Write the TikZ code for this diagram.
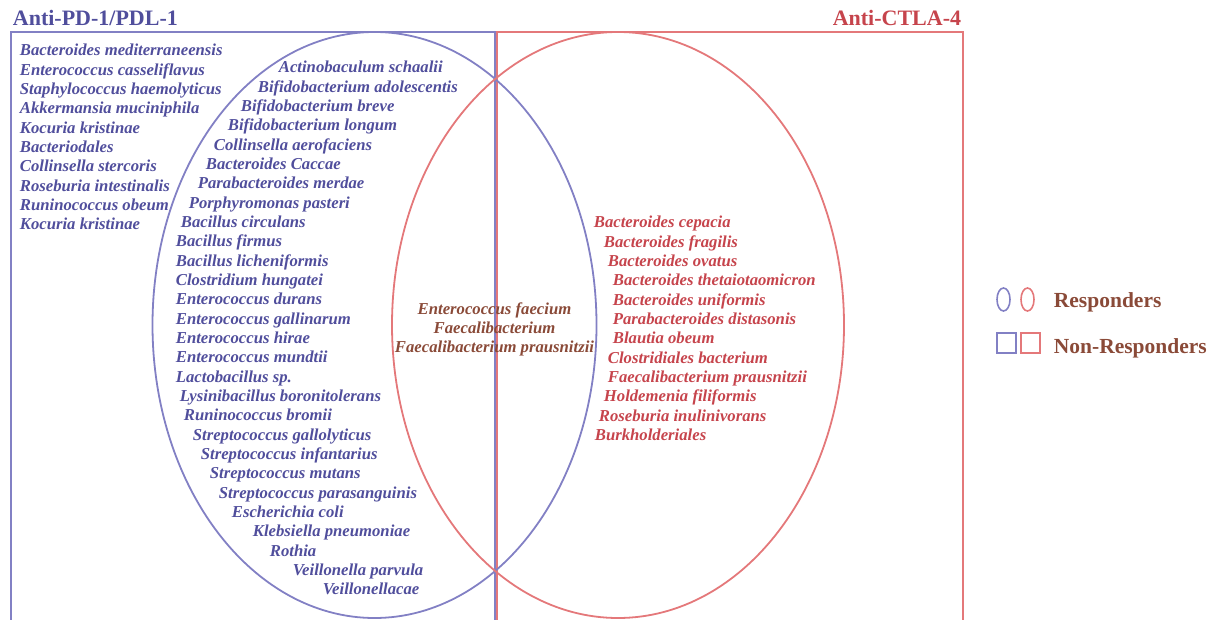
\documentclass[tikz,border=0pt]{standalone}
\usepackage{fontspec}
\setmainfont{Liberation Serif}
\usetikzlibrary{positioning}

\definecolor{pdline}{RGB}{130,128,196}
\definecolor{pdtext}{RGB}{80,78,156}
\definecolor{ctline}{RGB}{228,120,122}
\definecolor{cttext}{RGB}{198,68,76}
\definecolor{shared}{RGB}{138,74,56}
\newcommand{\pushin}[1]{\hspace*{#1pt}}

\begin{document}
\begin{tikzpicture}[x=1pt, y=-1pt, line width=1.8pt,
	spec/.style={inner sep=0pt, align=left, font=\fontsize{16.7}{19.33}\selectfont\bfseries\itshape},
	head/.style={inner sep=0pt, font=\fontsize{22}{26}\selectfont\bfseries}]
	\useasboundingbox (0,0) rectangle (1218,620);
	\clip (0,0) rectangle (1218,620);
	% non-responders: open boxes
	\draw[pdline] (11,640) |- (495,32) -- (495,640);
	\draw[ctline] (497,640) |- (963,32) -- (963,640);
	% responders: ellipses
	\draw[pdline] (374.5,325) ellipse [x radius=222pt, y radius=293pt];
	\draw[ctline] (618,325) ellipse [x radius=226pt, y radius=293pt];
	
	\node[head, pdtext, anchor=base west] (pd_title) at (12,26) {Anti-PD-1/PDL-1};
	\node[head, cttext, anchor=base east] (ct_title) at (962,26) {Anti-CTLA-4};
	
	\node[spec, pdtext, anchor=north west] (pd_only) at (19,43.5) {Bacteroides mediterraneensis\\Enterococcus casseliflavus\\Staphylococcus haemolyticus\\Akkermansia muciniphila\\Kocuria kristinae\\Bacteriodales\\Collinsella stercoris\\Roseburia intestinalis\\Runinococcus obeum\\Kocuria kristinae};
	\node[spec, pdtext, anchor=north west] (pd_resp) at (175,60.5) {\pushin{103}Actinobaculum schaalii\\\pushin{82}Bifidobacterium adolescentis\\\pushin{65}Bifidobacterium breve\\\pushin{52}Bifidobacterium longum\\\pushin{38}Collinsella aerofaciens\\\pushin{30}Bacteroides Caccae\\\pushin{22}Parabacteroides merdae\\\pushin{13}Porphyromonas pasteri\\\pushin{5}Bacillus circulans\\Bacillus firmus\\Bacillus licheniformis\\Clostridium hungatei\\Enterococcus durans\\Enterococcus gallinarum\\Enterococcus hirae\\Enterococcus mundtii\\Lactobacillus sp.\\\pushin{4}Lysinibacillus boronitolerans\\\pushin{8}Runinococcus bromii\\\pushin{17}Streptococcus gallolyticus\\\pushin{25}Streptococcus infantarius\\\pushin{34}Streptococcus mutans\\\pushin{43}Streptococcus parasanguinis\\\pushin{56}Escherichia coli\\\pushin{77}Klebsiella pneumoniae\\\pushin{94}Rothia\\\pushin{117}Veillonella parvula\\\pushin{147}Veillonellacae};
	\node[spec, shared, align=center, anchor=north] (both) at (494.5,301.5) {Enterococcus faecium\\Faecalibacterium\\Faecalibacterium prausnitzii};
	\node[spec, cttext, anchor=north west] (ct_resp) at (593,215.5) {Bacteroides cepacia\\\pushin{10}Bacteroides fragilis\\\pushin{14}Bacteroides ovatus\\\pushin{19}Bacteroides thetaiotaomicron\\\pushin{19}Bacteroides uniformis\\\pushin{19}Parabacteroides distasonis\\\pushin{19}Blautia obeum\\\pushin{14}Clostridiales bacterium\\\pushin{14}Faecalibacterium prausnitzii\\\pushin{10}Holdemenia filiformis\\\pushin{5}Roseburia inulinivorans\\\pushin{1}Burkholderiales};
	
	% legend
	\draw[pdline, line width=1.6pt] (1003.5,299.5) ellipse [x radius=6.5pt, y radius=11.5pt];
	\draw[ctline, line width=1.6pt] (1027.5,299.5) ellipse [x radius=6.5pt, y radius=11.5pt];
	\draw[pdline, line width=1.6pt] (997,333) rectangle (1016,353);
	\draw[ctline, line width=1.6pt] (1021,333) rectangle (1040,353);
	\node[head, shared, font=\fontsize{21.5}{25}\selectfont\bfseries, anchor=base west] (leg_r) at (1053,308) {Responders};
	\node[head, shared, font=\fontsize{21.5}{25}\selectfont\bfseries] (leg_nr) [below=45pt of leg_r.base west, anchor=base west] {Non-Responders};
\end{tikzpicture}
\end{document}
